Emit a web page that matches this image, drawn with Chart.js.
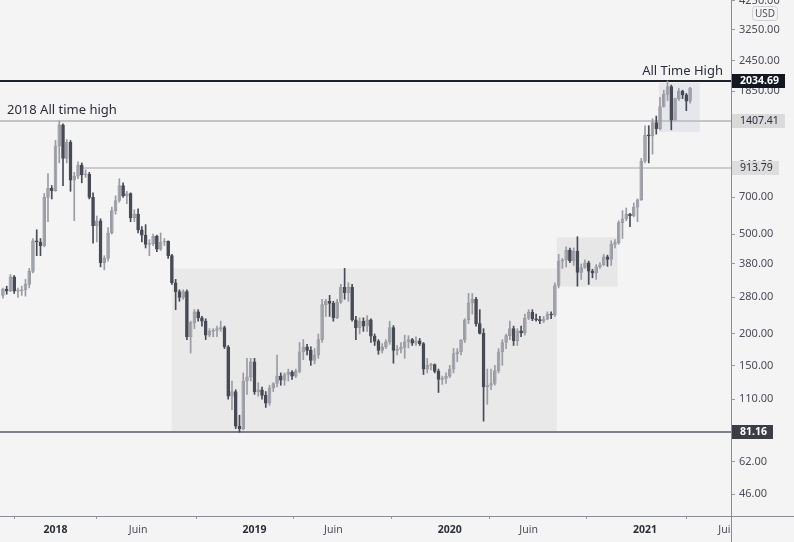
<!DOCTYPE html>
<html>
<head>
<meta charset="utf-8">
<script src="https://cdn.jsdelivr.net/npm/chart.js@4.4.1/dist/chart.umd.min.js"></script>
<style>
  html, body { margin: 0; padding: 0; background: #f4f4f4; }
  #wrap { width: 794px; height: 542px; position: relative; }
</style>
</head>
<body>
<div id="wrap"><canvas id="chart"></canvas></div>
<script>
// weekly candles, week index counted from 2018-01-01 (first candle = 2017-09-25)
const FIRST_WEEK = -14;

const OPEN = [
  285,302,297,338,296,297,300,315,355,470,
  465,450,700,760,745,1120,1360,1000,1160,820,
  850,940,860,865,700,540,565,385,400,505,
  620,680,780,710,725,580,600,520,495,455,
  458,490,435,465,468,410,320,295,280,295,
  195,222,245,232,225,198,205,207,210,212,
  178,113,118,86,84,130,135,155,118,120,
  114,106,122,127,136,131,138,141,136,142,
  170,178,172,157,165,190,262,270,265,232,
  268,307,292,307,228,212,225,215,228,196,
  187,172,178,186,212,172,174,177,186,190,
  184,188,183,145,150,151,142,132,133,136,
  145,167,170,189,228,266,275,220,201,123,
  125,127,143,170,185,197,210,188,206,202,
  231,244,230,228,226,229,240,238,312,390,
  395,432,392,428,352,368,384,356,350,370,
  377,406,396,455,462,555,575,601,590,640,
  685,975,1240,1230,1390,1315,1610,1800,1935,1420,
  1730,1855,1790,1690
];
const HIGH = [
  305,310,345,342,305,310,330,365,480,520,
  480,725,870,780,1180,1410,1375,1190,1180,880,
  970,960,900,880,730,590,575,410,530,640,
  710,830,800,740,730,625,630,535,545,475,
  500,495,505,480,470,415,330,300,300,300,
  225,250,250,235,230,210,210,215,225,215,
  180,130,120,95,140,160,160,160,128,123,
  118,125,128,165,140,140,145,143,145,185,
  190,182,178,175,200,275,275,285,270,275,
  315,365,320,315,235,232,232,237,230,200,
  190,183,190,225,216,180,185,198,197,192,
  195,192,185,160,153,152,145,136,140,150,
  175,175,190,230,290,290,280,250,210,145,
  145,150,175,190,200,225,215,210,215,240,
  250,250,240,235,235,245,245,320,415,400,
  445,440,440,488,380,395,390,362,378,385,
  415,412,470,475,565,620,635,605,665,690,
  1000,1350,1350,1440,1475,1750,1870,2034.69,1960,1740,
  1900,1870,1815,1920
];
const LOW = [
  278,288,295,290,280,285,283,305,350,410,
  410,445,560,690,740,960,780,960,740,565,
  830,800,840,690,460,465,370,360,390,500,
  600,670,700,660,560,560,505,465,440,410,
  450,425,430,450,400,315,250,270,275,190,
  168,210,225,215,190,195,195,195,205,175,
  110,100,84,81.16,83,115,130,115,113,110,
  102,104,118,123,125,125,130,132,134,140,
  158,165,150,152,160,185,235,235,225,230,
  265,275,270,225,190,200,205,205,185,180,
  166,168,175,182,153,165,168,160,176,180,
  180,180,138,140,144,140,117,126,127,134,
  140,155,165,185,220,240,215,200,90,105,
  120,125,140,150,175,190,180,180,195,198,
  228,226,225,220,222,228,230,235,305,365,
  370,385,375,310,330,365,315,335,330,365,
  375,372,375,440,455,480,565,535,585,560,
  680,960,960,1040,1250,1300,1600,1700,1300,1420,
  1700,1730,1550,1660
];
const CLOSE = [
  302,297,338,296,297,300,315,355,470,465,
  450,700,760,745,1120,1360,1000,1160,820,850,
  940,860,865,700,540,565,385,400,505,620,
  680,780,710,725,580,600,520,495,455,458,
  490,435,465,468,410,320,295,280,295,195,
  222,245,232,225,198,205,207,210,212,178,
  113,118,86,84,130,135,155,118,120,114,
  106,122,127,136,131,138,141,136,142,170,
  178,172,157,165,190,262,270,265,232,268,
  307,292,307,228,212,225,215,228,196,187,
  172,178,186,212,172,174,177,186,190,184,
  188,183,145,150,151,142,132,133,136,145,
  167,170,189,228,266,275,220,201,123,125,
  127,143,170,185,197,210,188,206,202,231,
  244,230,228,226,229,240,238,312,390,395,
  432,392,428,352,368,384,356,350,370,377,
  406,396,455,462,555,575,601,590,640,685,
  975,1240,1230,1390,1315,1610,1800,1935,1420,1730,
  1855,1790,1690,1905
];

const X_TICK_WEEKS  = [0, 22, 53, 74, 105, 126, 157, 179];
const X_TICK_LABELS = ['2018', 'Juin', '2019', 'Juin', '2020', 'Juin', '2021', 'Juin'];
const Y_TICKS = [46, 62, 80, 110, 150, 200, 280, 380, 500, 700, 940, 1400, 1850, 2450, 3250, 4250];

const LEVELS      = [2034.69, 1407.41, 913.79, 81.16];
const LEVEL_START = [-15, -15, 6.5, -15];
// [week from, week to, low price, high price]
const ZONES = [
  [30.95, 133.5, 81.16, 365],
  [133.5, 149.7, 309, 485],
  [160.7, 171.6, 1274, 2000]
];
const NOTES = ['2018 All time high', 'All Time High'];

const BG = '#f4f4f4';
const UP_BODY = '#d4d5d9', UP_LINE = '#9a9ca4', DOWN = '#474b56';
const isUp = i => CLOSE[i] >= OPEN[i];

const wicks  = OPEN.map((o, i) => ({ x: FIRST_WEEK + i, y: [LOW[i], HIGH[i]] }));
const bodies = OPEN.map((o, i) => ({ x: FIRST_WEEK + i, y: [Math.min(o, CLOSE[i]), Math.max(o, CLOSE[i])] }));

const FONT = '"Noto Sans", "DejaVu Sans", sans-serif';

const overlay = {
  id: 'overlay',
  beforeDraw(chart) {
    const { ctx, width, height } = chart;
    ctx.save();
    ctx.fillStyle = BG;
    ctx.fillRect(0, 0, width, height);
    ctx.restore();
  },
  beforeDatasetsDraw(chart) {
    const { ctx, chartArea: a, scales: { x, y } } = chart;
    ctx.save();
    const zoneFill = ['#e9e9e9', '#e7e7e7', '#e6e7ec'];
    ZONES.forEach(([w0, w1, lo, hi], i) => {
      const x0 = x.getPixelForValue(w0), x1 = x.getPixelForValue(w1);
      const y0 = y.getPixelForValue(hi), y1 = y.getPixelForValue(lo);
      ctx.fillStyle = zoneFill[i];
      ctx.fillRect(x0, y0, x1 - x0, y1 - y0);
    });
    const lineCol = ['#1e222d', '#c4c4c4', '#cdcdcd', '#7d8089'];
    LEVELS.forEach((v, i) => {
      const py = Math.round(y.getPixelForValue(v));
      const px = Math.max(a.left, x.getPixelForValue(LEVEL_START[i]));
      ctx.strokeStyle = lineCol[i];
      ctx.lineWidth = 2;
      ctx.beginPath();
      ctx.moveTo(px, py);
      ctx.lineTo(a.right, py);
      ctx.stroke();
    });
    ctx.restore();
  },
  afterDraw(chart) {
    const { ctx, chartArea: a, scales: { x, y }, width, height } = chart;
    ctx.save();
    // clip the x labels running under the price axis
    ctx.fillStyle = BG;
    ctx.fillRect(a.right + 1, a.bottom + 1, width - a.right, height - a.bottom);
    ctx.strokeStyle = '#8a8d96';
    ctx.lineWidth = 1;
    ctx.beginPath();
    ctx.moveTo(a.right + 0.5, 0);
    ctx.lineTo(a.right + 0.5, height);
    ctx.moveTo(0, a.bottom + 0.5);
    ctx.lineTo(width, a.bottom + 0.5);
    ctx.stroke();

    // price tags
    const tagBg = ['#131722', '#dadada', '#dddddd', '#3a3d46'];
    const tagFg = ['#ffffff', '#2a2e39', '#2a2e39', '#ffffff'];
    const tagWt = ['bold', 'normal', 'normal', 'bold'];
    LEVELS.forEach((v, i) => {
      const py = Math.round(y.getPixelForValue(v));
      ctx.font = `${tagWt[i]} 10.5px ${FONT}`;
      const label = v.toFixed(2);
      const tw = ctx.measureText(label).width;
      ctx.fillStyle = tagBg[i];
      ctx.fillRect(a.right + 1, py - 7, tw + 14, 14);
      ctx.fillStyle = tagFg[i];
      ctx.textBaseline = 'middle';
      ctx.textAlign = 'left';
      ctx.fillText(label, a.right + 9, py + 0.5);
    });

    // notes
    ctx.font = `13px ${FONT}`;
    ctx.fillStyle = '#2a2e39';
    ctx.textBaseline = 'middle';
    ctx.textAlign = 'left';
    ctx.fillText(NOTES[0], a.left + 7, y.getPixelForValue(LEVELS[1]) - 11);
    ctx.textAlign = 'right';
    ctx.fillText(NOTES[1], a.right - 8, y.getPixelForValue(LEVELS[0]) - 10);

    // currency badge
    ctx.strokeStyle = '#d0d0d4';
    ctx.fillStyle = BG;
    ctx.beginPath();
    ctx.roundRect(a.right + 21.5, 6.5, 25, 14, 3);
    ctx.fill();
    ctx.stroke();
    ctx.font = `10px ${FONT}`;
    ctx.fillStyle = '#50535e';
    ctx.textAlign = 'center';
    ctx.fillText('USD', a.right + 34, 14);
    ctx.restore();
  }
};

new Chart(document.getElementById('chart'), {
  type: 'bar',
  data: {
    datasets: [
      {
        data: wicks,
        barThickness: 1,
        grouped: false,
        backgroundColor: c => isUp(c.dataIndex) ? UP_LINE : DOWN,
        borderWidth: 0
      },
      {
        data: bodies,
        barThickness: 3,
        grouped: false,
        minBarLength: 1,
        backgroundColor: c => isUp(c.dataIndex) ? UP_BODY : DOWN,
        borderColor: c => isUp(c.dataIndex) ? UP_LINE : DOWN,
        borderWidth: 1,
        borderSkipped: false
      }
    ]
  },
  options: {
    responsive: true,
    maintainAspectRatio: false,
    animation: false,
    layout: { padding: 0 },
    plugins: { legend: { display: false }, tooltip: { enabled: false } },
    scales: {
      x: {
        type: 'linear',
        min: -14.78,
        max: 179.9,
        offset: false,
        afterBuildTicks: axis => { axis.ticks = X_TICK_WEEKS.map(v => ({ value: v })); },
        afterFit: axis => { axis.height = 26; axis.paddingLeft = 0; axis.paddingRight = 0; },
        grid: { drawOnChartArea: false, drawTicks: true, tickLength: 3, color: '#9a9ca4' },
        border: { display: true, color: '#8a8d96' },
        ticks: {
          autoSkip: false,
          maxRotation: 0,
          padding: 5,
          callback: (v, i) => X_TICK_LABELS[i],
          color: c => /^\d/.test(X_TICK_LABELS[c.index]) ? '#2a2e39' : '#4a4d57',
          font: c => ({ family: FONT, size: 10.5, weight: /^\d/.test(X_TICK_LABELS[c.index]) ? 'bold' : 'normal' })
        }
      },
      y: {
        type: 'logarithmic',
        position: 'right',
        min: 37.7,
        max: 4275,
        afterBuildTicks: axis => { axis.ticks = Y_TICKS.map(v => ({ value: v })); },
        afterFit: axis => { axis.width = 63; axis.paddingTop = 0; axis.paddingBottom = 0; },
        grid: { drawOnChartArea: false, drawTicks: true, tickLength: 4, color: '#9a9ca4' },
        border: { display: true, color: '#8a8d96' },
        ticks: {
          autoSkip: false,
          padding: 4,
          color: '#4a4d57',
          font: { family: FONT, size: 11 },
          callback: v => Number(v).toFixed(2)
        }
      }
    }
  },
  plugins: [overlay]
});
</script>
</body>
</html>
